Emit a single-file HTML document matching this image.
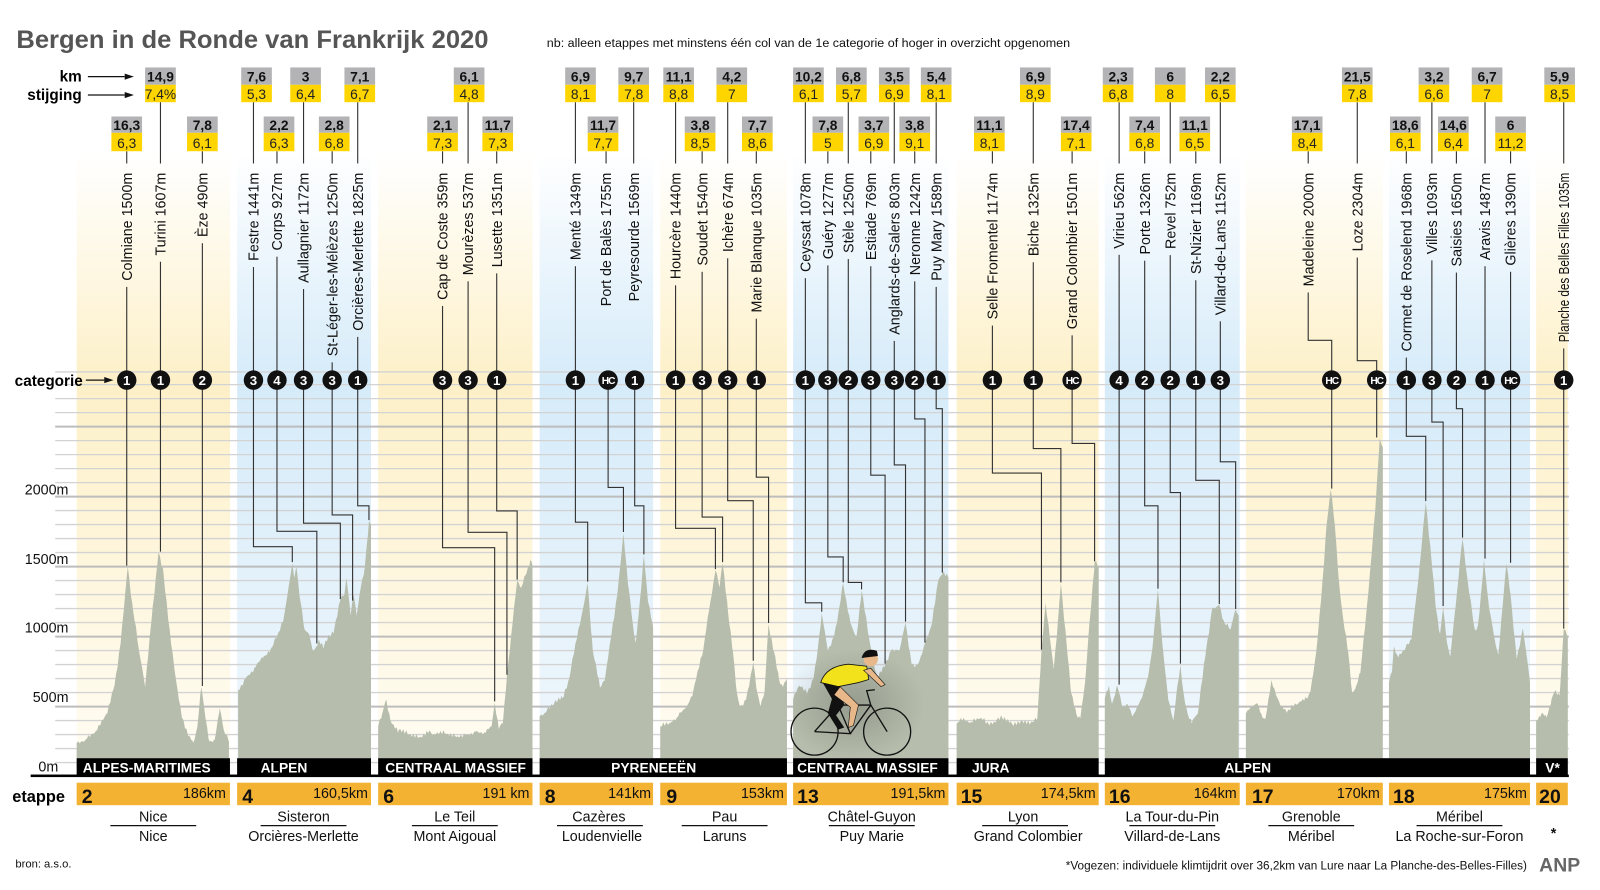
<!DOCTYPE html>
<html><head><meta charset="utf-8"><style>
html,body{margin:0;padding:0;background:#fff;}
svg{display:block;}
text{font-family:"Liberation Sans",sans-serif;}
.g{font-size:13.5px;font-weight:bold;fill:#111;text-anchor:middle;}
.y{font-size:13.5px;fill:#222;text-anchor:middle;}
.nm{font-size:14px;fill:#111;text-anchor:end;}
.ct{font-size:13px;font-weight:bold;fill:#fff;text-anchor:middle;}
.hc{font-size:10px;font-weight:bold;fill:#fff;text-anchor:middle;letter-spacing:-1px;}
.ax{font-size:14px;fill:#111;text-anchor:end;}
.rg{font-size:13.5px;font-weight:bold;fill:#fff;}
.sn{font-size:19px;font-weight:bold;fill:#111;}
.km{font-size:14px;fill:#111;text-anchor:end;}
.ct1{font-size:14px;fill:#111;text-anchor:middle;}
</style></head><body>
<svg id="S" width="1600" height="890" viewBox="0 0 1565.5 871" preserveAspectRatio="none" xmlns="http://www.w3.org/2000/svg">
<defs>
<linearGradient id="gy" x1="0" y1="0" x2="0" y2="1"><stop offset="0" stop-color="#fdf0c8" stop-opacity="0"/><stop offset="0.38" stop-color="#fdf0c8"/><stop offset="1" stop-color="#fffcf2"/></linearGradient>
<linearGradient id="gb" x1="0" y1="0" x2="0" y2="1"><stop offset="0" stop-color="#d4eaf9" stop-opacity="0"/><stop offset="0.38" stop-color="#d6ebf9"/><stop offset="1" stop-color="#f0f7fc"/></linearGradient>
<radialGradient id="sh" cx="0.5" cy="0.5" r="0.5"><stop offset="0" stop-color="#000" stop-opacity="0.18"/><stop offset="1" stop-color="#000" stop-opacity="0"/></radialGradient>
</defs>
<g id="BG"></g>
<g id="GR"></g>
<g id="PR"></g>
<g id="LN"></g>
<g id="CY">
<ellipse cx="835" cy="690" rx="70" ry="55" fill="url(#sh)"/>
<circle cx="797" cy="716" r="23" fill="none" stroke="#111" stroke-width="1.3"/>
<circle cx="868" cy="716" r="23" fill="none" stroke="#111" stroke-width="1.3"/>
<path d="M797 716 L820 690 L852 690 L868 716 M820 690 L812 675 M852 690 L848 676 L856 675 M820 690 L832 718 L797 716 M832 718 L852 690" fill="none" stroke="#111" stroke-width="1.3"/>
<path d="M803 668 Q808 652 830 650 L848 652 L850 665 L840 668 L820 672 Z" fill="#f2e21c" stroke="#111" stroke-width="0.8"/>
<path d="M805 668 L822 672 L826 690 L818 700 L826 712 L820 714 L810 698 L814 684 Z" fill="#111"/>
<path d="M822 672 L840 690 L835 710 L830 712 L832 692 L816 680 Z" fill="#e8b88a" stroke="#111" stroke-width="0.6"/>
<path d="M845 656 L862 672 L866 670 L852 654 Z" fill="#e8b88a" stroke="#111" stroke-width="0.6"/>
<circle cx="852" cy="645" r="7" fill="#e8b88a"/><path d="M843 644 Q846 633 858 637 L859 642 Z" fill="#111"/>
</g>
<g id="BX"></g>
<g id="CI"></g>

<text x="16" y="47" font-size="24" font-weight="bold" fill="#555" textLength="462" lengthAdjust="spacingAndGlyphs">Bergen in de Ronde van Frankrijk 2020</text>
<text x="535" y="46" font-size="12" fill="#111" textLength="512" lengthAdjust="spacingAndGlyphs">nb: alleen etappes met minstens één col van de 1e categorie of hoger in overzicht opgenomen</text>
<text x="80" y="80" font-size="15" font-weight="bold" text-anchor="end">km</text>
<text x="80" y="98" font-size="15" font-weight="bold" text-anchor="end">stijging</text>
<text x="81" y="378" font-size="15" font-weight="bold" text-anchor="end">categorie</text>
<path d="M86 75 H122 M86 93 H122 M84 372 H102" stroke="#111" stroke-width="1.2"/>
<path d="M122 72 L131 75 L122 78Z M122 90 L131 93 L122 96Z M102 369 L111 372 L102 375Z" fill="#111"/>

<text class="ax" x="67" y="484">2000m</text>
<text class="ax" x="67" y="552">1500m</text>
<text class="ax" x="67" y="619">1000m</text>
<text class="ax" x="67" y="687">500m</text>
<text class="ax" x="57" y="755">0m</text>

<g>
<text class="g" x="124" y="127">16,3</text><text class="y" x="124" y="145">6,3</text>
<text class="g" x="157" y="80">14,9</text><text class="y" x="157" y="97">7,4%</text>
<text class="g" x="198" y="127">7,8</text><text class="y" x="198" y="145">6,1</text>
<text class="g" x="251" y="80">7,6</text><text class="y" x="251" y="97">5,3</text>
<text class="g" x="273" y="127">2,2</text><text class="y" x="273" y="145">6,3</text>
<text class="g" x="299" y="80">3</text><text class="y" x="299" y="97">6,4</text>
<text class="g" x="327" y="127">2,8</text><text class="y" x="327" y="145">6,8</text>
<text class="g" x="352" y="80">7,1</text><text class="y" x="352" y="97">6,7</text>
<text class="g" x="433" y="127">2,1</text><text class="y" x="433" y="145">7,3</text>
<text class="g" x="459" y="80">6,1</text><text class="y" x="459" y="97">4,8</text>
<text class="g" x="487" y="127">11,7</text><text class="y" x="487" y="145">7,3</text>
<text class="g" x="568" y="80">6,9</text><text class="y" x="568" y="97">8,1</text>
<text class="g" x="590" y="127">11,7</text><text class="y" x="590" y="145">7,7</text>
<text class="g" x="620" y="80">9,7</text><text class="y" x="620" y="97">7,8</text>
<text class="g" x="664" y="80">11,1</text><text class="y" x="664" y="97">8,8</text>
<text class="g" x="685" y="127">3,8</text><text class="y" x="685" y="145">8,5</text>
<text class="g" x="716" y="80">4,2</text><text class="y" x="716" y="97">7</text>
<text class="g" x="741" y="127">7,7</text><text class="y" x="741" y="145">8,6</text>
<text class="g" x="791" y="80">10,2</text><text class="y" x="791" y="97">6,1</text>
<text class="g" x="810" y="127">7,8</text><text class="y" x="810" y="145">5</text>
<text class="g" x="833" y="80">6,8</text><text class="y" x="833" y="97">5,7</text>
<text class="g" x="855" y="127">3,7</text><text class="y" x="855" y="145">6,9</text>
<text class="g" x="875" y="80">3,5</text><text class="y" x="875" y="97">6,9</text>
<text class="g" x="895" y="127">3,8</text><text class="y" x="895" y="145">9,1</text>
<text class="g" x="916" y="80">5,4</text><text class="y" x="916" y="97">8,1</text>
<text class="g" x="968" y="127">11,1</text><text class="y" x="968" y="145">8,1</text>
<text class="g" x="1013" y="80">6,9</text><text class="y" x="1013" y="97">8,9</text>
<text class="g" x="1053" y="127">17,4</text><text class="y" x="1053" y="145">7,1</text>
<text class="g" x="1094" y="80">2,3</text><text class="y" x="1094" y="97">6,8</text>
<text class="g" x="1120" y="127">7,4</text><text class="y" x="1120" y="145">6,8</text>
<text class="g" x="1145" y="80">6</text><text class="y" x="1145" y="97">8</text>
<text class="g" x="1169" y="127">11,1</text><text class="y" x="1169" y="145">6,5</text>
<text class="g" x="1194" y="80">2,2</text><text class="y" x="1194" y="97">6,5</text>
<text class="g" x="1279" y="127">17,1</text><text class="y" x="1279" y="145">8,4</text>
<text class="g" x="1328" y="80">21,5</text><text class="y" x="1328" y="97">7,8</text>
<text class="g" x="1375" y="127">18,6</text><text class="y" x="1375" y="145">6,1</text>
<text class="g" x="1403" y="80">3,2</text><text class="y" x="1403" y="97">6,6</text>
<text class="g" x="1422" y="127">14,6</text><text class="y" x="1422" y="145">6,4</text>
<text class="g" x="1455" y="80">6,7</text><text class="y" x="1455" y="97">7</text>
<text class="g" x="1478" y="127">6</text><text class="y" x="1478" y="145">11,2</text>
<text class="g" x="1526" y="80">5,9</text><text class="y" x="1526" y="97">8,5</text>
</g>

<g id="NM">
<text class="nm" transform="translate(129,169) rotate(-90)">Colmiane 1500m</text>
<text class="nm" transform="translate(162,169) rotate(-90)">Turini 1607m</text>
<text class="nm" transform="translate(203,169) rotate(-90)">Èze 490m</text>
<text class="nm" transform="translate(253,169) rotate(-90)">Festre 1441m</text>
<text class="nm" transform="translate(276,169) rotate(-90)">Corps 927m</text>
<text class="nm" transform="translate(302,169) rotate(-90)">Aullagnier 1172m</text>
<text class="nm" transform="translate(330,169) rotate(-90)">St-Léger-les-Mélèzes 1250m</text>
<text class="nm" transform="translate(355,169) rotate(-90)">Orcières-Merlette 1825m</text>
<text class="nm" transform="translate(438,169) rotate(-90)">Cap de Coste 359m</text>
<text class="nm" transform="translate(463,169) rotate(-90)">Mourèzes 537m</text>
<text class="nm" transform="translate(491,169) rotate(-90)">Lusette 1351m</text>
<text class="nm" transform="translate(568,169) rotate(-90)">Menté 1349m</text>
<text class="nm" transform="translate(598,169) rotate(-90)">Port de Balès 1755m</text>
<text class="nm" transform="translate(625,169) rotate(-90)">Peyresourde 1569m</text>
<text class="nm" transform="translate(666,169) rotate(-90)">Hourcère 1440m</text>
<text class="nm" transform="translate(692,169) rotate(-90)">Soudet 1540m</text>
<text class="nm" transform="translate(717,169) rotate(-90)">Ichère 674m</text>
<text class="nm" transform="translate(745,169) rotate(-90)">Marie Blanque 1035m</text>
<text class="nm" transform="translate(793,169) rotate(-90)">Ceyssat 1078m</text>
<text class="nm" transform="translate(815,169) rotate(-90)">Guéry 1277m</text>
<text class="nm" transform="translate(835,169) rotate(-90)">Stèle 1250m</text>
<text class="nm" transform="translate(857,169) rotate(-90)">Estiade 769m</text>
<text class="nm" transform="translate(880,169) rotate(-90)">Anglards-de-Salers 803m</text>
<text class="nm" transform="translate(900,169) rotate(-90)">Neronne 1242m</text>
<text class="nm" transform="translate(921,169) rotate(-90)">Puy Mary 1589m</text>
<text class="nm" transform="translate(976,169) rotate(-90)">Selle Fromentel 1174m</text>
<text class="nm" transform="translate(1016,169) rotate(-90)">Biche 1325m</text>
<text class="nm" transform="translate(1054,169) rotate(-90)">Grand Colombier 1501m</text>
<text class="nm" transform="translate(1100,169) rotate(-90)">Virieu 562m</text>
<text class="nm" transform="translate(1125,169) rotate(-90)">Porte 1326m</text>
<text class="nm" transform="translate(1150,169) rotate(-90)">Revel 752m</text>
<text class="nm" transform="translate(1175,169) rotate(-90)">St-Nizier 1169m</text>
<text class="nm" transform="translate(1199,169) rotate(-90)">Villard-de-Lans 1152m</text>
<text class="nm" transform="translate(1285,169) rotate(-90)">Madeleine 2000m</text>
<text class="nm" transform="translate(1333,169) rotate(-90)">Loze  2304m</text>
<text class="nm" transform="translate(1381,169) rotate(-90)">Cormet de Roselend 1968m</text>
<text class="nm" transform="translate(1406,169) rotate(-90)">Villes 1093m</text>
<text class="nm" transform="translate(1430,169) rotate(-90)">Saisies 1650m</text>
<text class="nm" transform="translate(1458,169) rotate(-90)">Aravis 1487m</text>
<text class="nm" transform="translate(1483,169) rotate(-90)">Glières 1390m</text>
<text class="nm" transform="translate(1535,169) rotate(-90)" textLength="166" lengthAdjust="spacingAndGlyphs">Planche des Belles Filles 1035m</text>
</g>

<g>
<text class="ct" x="124" y="377">1</text><text class="ct" x="157" y="377">1</text><text class="ct" x="198" y="377">2</text>
<text class="ct" x="248" y="377">3</text><text class="ct" x="271" y="377">4</text><text class="ct" x="297" y="377">3</text><text class="ct" x="325" y="377">3</text><text class="ct" x="350" y="377">1</text>
<text class="ct" x="433" y="377">3</text><text class="ct" x="458" y="377">3</text><text class="ct" x="486" y="377">1</text>
<text class="ct" x="563" y="377">1</text><text class="hc" x="595" y="376">HC</text><text class="ct" x="621" y="377">1</text>
<text class="ct" x="661" y="377">1</text><text class="ct" x="687" y="377">3</text><text class="ct" x="712" y="377">3</text><text class="ct" x="740" y="377">1</text>
<text class="ct" x="788" y="377">1</text><text class="ct" x="810" y="377">3</text><text class="ct" x="830" y="377">2</text><text class="ct" x="852" y="377">3</text><text class="ct" x="875" y="377">3</text><text class="ct" x="895" y="377">2</text><text class="ct" x="916" y="377">1</text>
<text class="ct" x="971" y="377">1</text><text class="ct" x="1011" y="377">1</text><text class="hc" x="1049" y="376">HC</text>
<text class="ct" x="1095" y="377">4</text><text class="ct" x="1120" y="377">2</text><text class="ct" x="1145" y="377">2</text><text class="ct" x="1170" y="377">1</text><text class="ct" x="1194" y="377">3</text>
<text class="hc" x="1303" y="376">HC</text><text class="hc" x="1347" y="376">HC</text>
<text class="ct" x="1376" y="377">1</text><text class="ct" x="1401" y="377">3</text><text class="ct" x="1425" y="377">2</text><text class="ct" x="1453" y="377">1</text><text class="hc" x="1478" y="376">HC</text>
<text class="ct" x="1530" y="377">1</text>
</g>

<g id="RB"></g>
<text class="rg" x="81" y="756">ALPES-MARITIMES</text>
<text class="rg" x="255" y="756">ALPEN</text>
<text class="rg" x="377" y="756">CENTRAAL MASSIEF</text>
<text class="rg" x="598" y="756">PYRENEEËN</text>
<text class="rg" x="780" y="756">CENTRAAL MASSIEF</text>
<text class="rg" x="951" y="756">JURA</text>
<text class="rg" x="1198" y="756">ALPEN</text>
<text class="rg" x="1512" y="756">V*</text>

<text x="12" y="785" font-size="16" font-weight="bold">etappe</text>
<g id="OB"></g>
<text class="sn" x="80" y="786">2</text><text class="km" x="221" y="781">186km</text>
<text class="sn" x="237" y="786">4</text><text class="km" x="360" y="781">160,5km</text>
<text class="sn" x="375" y="786">6</text><text class="km" x="518" y="781">191 km</text>
<text class="sn" x="533" y="786">8</text><text class="km" x="637" y="781">141km</text>
<text class="sn" x="652" y="786">9</text><text class="km" x="767" y="781">153km</text>
<text class="sn" x="780" y="786">13</text><text class="km" x="925" y="781">191,5km</text>
<text class="sn" x="940" y="786">15</text><text class="km" x="1072" y="781">174,5km</text>
<text class="sn" x="1085" y="786">16</text><text class="km" x="1210" y="781">164km</text>
<text class="sn" x="1225" y="786">17</text><text class="km" x="1350" y="781">170km</text>
<text class="sn" x="1363" y="786">18</text><text class="km" x="1494" y="781">175km</text>
<text class="sn" x="1506" y="786">20</text>

<g id="CT">
<text class="ct1" x="150" y="804">Nice</text><text class="ct1" x="150" y="823">Nice</text>
<text class="ct1" x="297" y="804">Sisteron</text><text class="ct1" x="297" y="823">Orcières-Merlette</text>
<text class="ct1" x="445" y="804">Le Teil</text><text class="ct1" x="445" y="823">Mont Aigoual</text>
<text class="ct1" x="586" y="804">Cazères</text><text class="ct1" x="589" y="823">Loudenvielle</text>
<text class="ct1" x="709" y="804">Pau</text><text class="ct1" x="709" y="823">Laruns</text>
<text class="ct1" x="853" y="804">Châtel-Guyon</text><text class="ct1" x="853" y="823">Puy Marie</text>
<text class="ct1" x="1001" y="804">Lyon</text><text class="ct1" x="1006" y="823">Grand Colombier</text>
<text class="ct1" x="1147" y="804">La Tour-du-Pin</text><text class="ct1" x="1147" y="823">Villard-de-Lans</text>
<text class="ct1" x="1283" y="804">Grenoble</text><text class="ct1" x="1283" y="823">Méribel</text>
<text class="ct1" x="1428" y="804">Méribel</text><text class="ct1" x="1428" y="823">La Roche-sur-Foron</text>
<text class="ct1" x="1520" y="820" font-size="22" font-weight="bold">*</text>
</g>
<text x="15" y="849" font-size="11" fill="#111">bron: a.s.o.</text>
<text x="1494" y="851" font-size="11.5" fill="#111" text-anchor="end">*Vogezen: individuele klimtijdrit over 36,2km van Lure naar La Planche-des-Belles-Filles)</text>
<text x="1506" y="853" font-size="19" font-weight="bold" fill="#666">ANP</text>
</svg>
<script>
(function(){
var NS="http://www.w3.org/2000/svg";
function el(p,t,a){var e=document.createElementNS(NS,t);for(var k in a)e.setAttribute(k,a[k]);document.getElementById(p).appendChild(e);return e;}
var cols=[[75,225,'y'],[232,363,'b'],[370,521,'y'],[528,639,'b'],[646,770,'y'],[776,928,'b'],[936,1075,'y'],[1081,1213,'b'],[1219,1353,'y'],[1359,1497,'b'],[1503,1534,'y']];
cols.forEach(function(c){el('BG','rect',{x:c[0],y:150,width:c[1]-c[0],height:592,fill:'url(#g'+c[2]+')'});});
for(var k=1;k<=28;k++){var y=760-13.7*k;var m=(k%5==0);el('GR','line',{x1:54,x2:1535,y1:y,y2:y,stroke:m?'#bdbdbd':'#d3d3d3','stroke-width':m?2:1.3});}
el('GR','line',{x1:54,x2:1535,y1:364,y2:364,stroke:'#d3d3d3','stroke-width':1.3});
var P=[
[[75,240],[85,270],[95,330],[105,450],[112,650],[118,950],[125,1500],[130,1200],[136,900],[142,640],[148,1100],[155,1600],[160,1450],[166,1050],[172,700],[178,420],[184,290],[189,240],[193,350],[197,640],[201,420],[205,250],[210,260],[215,490],[219,330],[224,250]],
[[233,620],[240,700],[250,780],[258,860],[266,920],[271,1000],[278,1150],[283,1380],[286,1525],[288,1420],[290,1500],[294,1250],[298,1050],[303,1000],[306,900],[309,925],[312,980],[317,930],[322,1000],[327,1050],[333,1260],[337,1300],[339,1420],[343,1150],[346,1300],[349,1150],[353,1350],[357,1500],[361,1825],[363,1800]],
[[370,360],[374,450],[378,550],[382,400],[390,330],[400,300],[410,280],[420,330],[425,300],[435,310],[445,290],[455,300],[465,320],[475,310],[481,360],[484,530],[488,340],[492,380],[496,720],[500,1000],[506,1400],[510,1350],[515,1450],[519,1550],[521,1500]],
[[528,430],[535,470],[542,520],[550,560],[557,700],[563,950],[569,1150],[575,1385],[580,900],[587,635],[592,700],[598,1000],[604,1300],[610,1740],[615,1350],[619,1100],[622,955],[626,1250],[630,1580],[634,1250],[639,1060]],
[[646,360],[655,380],[662,420],[670,480],[678,600],[688,900],[695,1250],[700,1475],[704,1350],[707,1525],[712,1200],[717,900],[721,600],[724,500],[730,550],[737,820],[741,600],[744,500],[748,600],[752,1090],[757,900],[762,700],[766,640],[770,700]],
[[776,550],[782,650],[790,600],[796,700],[800,900],[804,1170],[810,900],[816,1000],[821,1200],[825,1380],[832,1100],[838,1000],[843,1330],[850,1000],[858,700],[866,800],[872,900],[880,900],[886,1100],[892,800],[898,800],[905,950],[912,1100],[918,1400],[922,1450],[928,1420]],
[[936,380],[940,420],[950,390],[960,420],[965,380],[975,400],[980,430],[990,380],[1000,400],[1010,390],[1015,420],[1019,900],[1023,1240],[1027,1000],[1031,765],[1035,1100],[1038,1380],[1043,1000],[1048,600],[1053,450],[1057,415],[1062,700],[1066,1100],[1071,1530],[1075,1500]],
[[1081,560],[1085,650],[1088,520],[1093,650],[1098,500],[1103,520],[1108,430],[1113,500],[1118,580],[1123,700],[1128,950],[1133,1335],[1138,900],[1143,550],[1148,400],[1152,650],[1155,800],[1158,600],[1162,450],[1166,380],[1172,450],[1180,900],[1186,1200],[1193,1225],[1198,1100],[1204,1050],[1209,1190],[1212,1150]],
[[1219,450],[1224,500],[1230,525],[1234,450],[1238,410],[1241,550],[1244,690],[1250,560],[1256,480],[1261,475],[1270,520],[1278,560],[1282,600],[1288,900],[1294,1400],[1298,1800],[1302,2050],[1306,1800],[1310,1400],[1314,1140],[1319,900],[1323,600],[1327,650],[1331,740],[1336,1100],[1341,1500],[1346,1950],[1350,2415],[1353,2350]],
[[1359,670],[1362,750],[1364,930],[1368,850],[1373,900],[1377,950],[1381,980],[1386,1300],[1391,1650],[1395,1960],[1400,1600],[1405,1200],[1409,1020],[1412,1210],[1416,950],[1419,855],[1424,1200],[1428,1500],[1431,1700],[1436,1400],[1440,1200],[1443,1050],[1446,1080],[1449,1300],[1452,1550],[1457,1200],[1462,1000],[1466,870],[1470,1200],[1474,1520],[1478,1300],[1484,840],[1490,1060],[1494,850],[1497,670]],
[[1503,400],[1508,450],[1513,420],[1518,550],[1522,620],[1526,580],[1530,1050],[1534,1000]]
];
function YY(a){return 760-a*0.137;}
P.forEach(function(pts){
 var d='M'+pts[0][0]+',742';
 for(var i=0;i<pts.length-1;i++){var a=pts[i],b=pts[i+1];
  for(var x=a[0];x<b[0];x+=1.5){var t=(x-a[0])/(b[0]-a[0]);var al=a[1]+(b[1]-a[1])*t;
   var n=(x==a[0])?0:(14*Math.sin(x*1.9)+9*Math.sin(x*4.3+1.3));
   var yy=YY(al+n); if(yy>742)yy=742; d+=' L'+x.toFixed(1)+','+yy.toFixed(1);}
 }
 var l=pts[pts.length-1]; d+=' L'+l[0]+','+YY(l[1]).toFixed(1)+' L'+l[0]+',742 Z';
 el('PR','path',{d:d,fill:'#b6bdac'});
});
function prof(x){for(var s=0;s<P.length;s++){var pts=P[s];if(x>=pts[0][0]&&x<=pts[pts.length-1][0]){for(var i=0;i<pts.length-1;i++){if(x>=pts[i][0]&&x<=pts[i+1][0]){var t=(x-pts[i][0])/(pts[i+1][0]-pts[i][0]||1);return YY(pts[i][1]+(pts[i+1][1]-pts[i][1])*t);}}}}return 700;}
var C=[
[124,2,124,125,0],[157,1,157,155,0],[198,2,198,197,0],
[248,1,248,286,535],[271,2,271,310,520],[297,1,297,333,512],[325,2,325,345,504],[350,1,350,361,495],
[433,2,433,484,536],[458,1,458,496,521],[486,2,486,506,500],
[563,1,563,575,511],[593,2,595,610,477],[620,1,621,630,495],
[661,1,661,700,517],[687,2,687,707,506],[712,1,712,737,490],[740,2,740,752,467],
[788,1,788,804,590],[810,2,810,825,545],[830,1,830,843,570],[852,2,852,866,465],[875,1,875,886,455],[895,2,895,905,410],[916,1,916,922,400],
[971,2,971,1019,463],[1011,1,1011,1038,439],[1049,2,1049,1071,434],
[1095,1,1095,1093,0],[1120,2,1120,1133,495],[1145,1,1145,1155,482],[1170,2,1170,1193,470],[1194,1,1194,1209,452],
[1280,2,1303,1302,0,333],[1328,1,1347,1350,0,353],
[1376,2,1376,1395,427],[1401,1,1401,1412,413],[1425,2,1425,1431,400],[1453,1,1453,1452,0],[1478,2,1478,1474,0],
[1530,1,1530,1530,0]];
var bxs=[124,157,198,251,273,299,327,352,433,459,487,568,590,620,664,685,716,741,791,810,833,855,875,895,916,968,1013,1053,1094,1120,1145,1169,1194,1279,1328,1375,1403,1422,1455,1478,1526];
var names=document.querySelectorAll('#NM text');
var st={stroke:'#333','stroke-width':1.1,fill:'none'};
function pl(pts){var a={points:pts.join(' ')};for(var k in st)a[k]=st[k];el('LN','polyline',a);}
C.forEach(function(c,i){
 var tx=c[0],row=c[1],cx=c[2],px=c[3],eb=c[4],ea=c[5];
 var bx=bxs[i];
 if(row==1){el('BX','rect',{x:bx-15,y:66,width:30,height:17,fill:'#b3b3b5'});el('BX','rect',{x:bx-15,y:83,width:30,height:17,fill:'#ffd500'});pl([tx+','+100,tx+','+160]);}
 else{el('BX','rect',{x:bx-15,y:114,width:30,height:16,fill:'#b3b3b5'});el('BX','rect',{x:bx-15,y:130,width:30,height:18,fill:'#ffd500'});pl([tx+','+148,tx+','+160]);}
 var L=140;try{L=names[i].getComputedTextLength();var tl=names[i].getAttribute('textLength');if(tl)L=+tl;}catch(e){}
 var ty=169+L+6;
 if(cx==tx)pl([tx+','+ty,tx+','+363]);else pl([tx+','+ty,tx+','+ea,cx+','+ea,cx+','+363]);
 var py=prof(px)-1;
 if(eb&&px!=cx){var e2=Math.min(eb,py-5);pl([cx+','+381,cx+','+e2,px+','+e2,px+','+py]);}
 else pl([cx+','+381,cx+','+py]);
 el('CI','circle',{cx:cx,cy:372,r:9.5,fill:'#111'});
});
var rb=[[75,225],[232,363],[370,521],[528,770],[776,928],[936,1075],[1081,1497],[1503,1534]];
rb.forEach(function(r){el('RB','rect',{x:r[0],y:742,width:r[1]-r[0],height:18,fill:'#000'});});
el('RB','rect',{x:30,y:758,width:1505,height:2.5,fill:'#000'});
cols.forEach(function(c){el('OB','rect',{x:c[0],y:766,width:c[1]-c[0],height:22,fill:'#f3b231'});});
var uc=[150,297,445,587,709,853,1003,1147,1283,1428];
uc.forEach(function(u){el('OB','line',{x1:u-42,x2:u+42,y1:808,y2:808,stroke:'#111','stroke-width':1.3});});
})();
</script>
</body></html>
